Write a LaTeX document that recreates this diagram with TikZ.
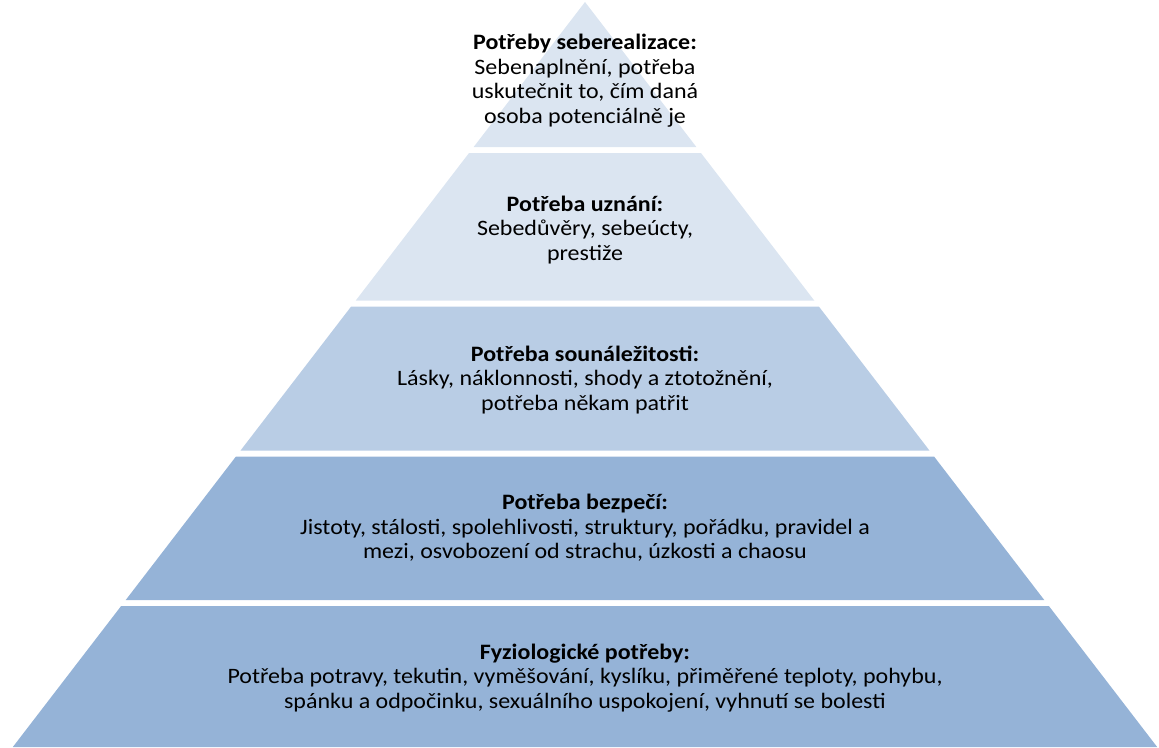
\documentclass[tikz,border=0pt]{standalone}
\usepackage{fontspec}
\setmainfont{Carlito}[FakeStretch=1.09]
\usetikzlibrary{positioning}
\definecolor{lightlevel}{HTML}{DBE5F1}
\definecolor{midlevel}{HTML}{B9CDE5}
\definecolor{darklevel}{HTML}{95B3D7}

\begin{document}
\begin{tikzpicture}[x=1pt, y=-1pt,
  needtext/.style={align=center, inner sep=0pt, font=\fontsize{22}{24.5}\selectfont}
  ]
  \useasboundingbox (0,0) rectangle (1159,747);
  
  \foreach \t/\b/\c in {2/147/lightlevel, 153/300.5/lightlevel, 306.5/450.5/midlevel, 456.5/600/darklevel, 606/747/darklevel} {
    \pgfmathsetmacro{\wt}{0.768*(\t-2)}
    \pgfmathsetmacro{\wb}{0.768*(\b-2)}
    \fill[\c] (585-\wt,\t) -- (585+\wt,\t) -- (585+\wb,\b) -- (585-\wb,\b) -- cycle;
  }
  
  \node[needtext] (selfact) at (585,80.5) {\textbf{Potřeby seberealizace:}\\Sebenaplnění, potřeba\\uskutečnit to, čím daná\\osoba potenciálně je};
  \node[needtext] (esteem) at (585,230) {\textbf{Potřeba uznání:}\\Sebedůvěry, sebeúcty,\\prestiže};
  \node[needtext] (belong) at (585,380) {\textbf{Potřeba sounáležitosti:}\\Lásky, náklonnosti, shody a ztotožnění,\\potřeba někam patřit};
  \node[needtext] (safety) at (585,528) {\textbf{Potřeba bezpečí:}\\Jistoty, stálosti, spolehlivosti, struktury, pořádku, pravidel a\\mezi, osvobození od strachu, úzkosti a chaosu};
  \node[needtext] (physio) at (585,678) {\textbf{Fyziologické potřeby:}\\Potřeba potravy, tekutin, vyměšování, kyslíku, přiměřené teploty, pohybu,\\spánku a odpočinku, sexuálního uspokojení, vyhnutí se bolesti};
  
\end{tikzpicture}
\end{document}
